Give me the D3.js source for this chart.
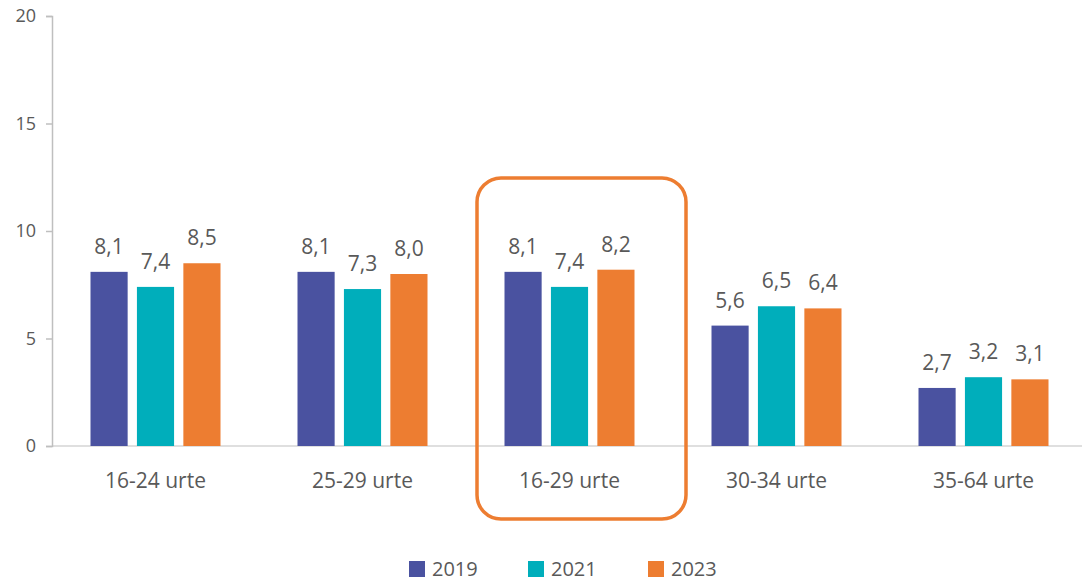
<!DOCTYPE html>
<html>
<head>
<meta charset="utf-8">
<script src="https://cdn.jsdelivr.net/npm/d3@7"></script>
<style>
  body { margin: 0; background: #fff; }
  svg { display: block; }
  text { font-family: "Open Sans", "Noto Sans", sans-serif; fill: #595959; }
</style>
</head>
<body>
<svg id="chart" width="1082" height="582"></svg>
<script>
// data
const categories = ["16-24 urte", "25-29 urte", "16-29 urte", "30-34 urte", "35-64 urte"];
const years = ["2019", "2021", "2023"];
const values2019 = [8.1, 8.1, 8.1, 5.6, 2.7];
const values2021 = [7.4, 7.3, 7.4, 6.5, 3.2];
const values2023 = [8.5, 8.0, 8.2, 6.4, 3.1];
const yTicks = [0, 5, 10, 15, 20];
const colors = ["#4a52a0", "#00aebb", "#ed7d31"];
const highlighted = "16-29 urte";

const seriesValues = [values2019, values2021, values2023];

const svg = d3.select("#chart");

// scales
const x0 = d3.scaleBand().domain(categories).range([52, 1087]);
const x1 = d3.scaleBand().domain(years).range([-65, 65]).paddingInner(0.2);
const y = d3.scaleLinear().domain([0, 20]).range([446, 16]);
const color = d3.scaleOrdinal().domain(years).range(colors);

// baseline
svg.append("line")
    .attr("x1", 52).attr("x2", 1082)
    .attr("y1", y(0)).attr("y2", y(0))
    .attr("stroke", "#d4d4d4").attr("stroke-width", 1.5);

// y axis
const yAxis = svg.append("g")
    .attr("transform", "translate(52,0)")
    .call(d3.axisLeft(y).tickValues(yTicks).tickSize(6).tickPadding(10));
yAxis.select(".domain").attr("stroke", "#bfbfbf").attr("stroke-width", 1.5);
yAxis.selectAll(".tick line").attr("stroke", "#bfbfbf").attr("stroke-width", 1.5);
yAxis.selectAll("text")
    .attr("fill", "#595959")
    .style("font-size", "18px")
    .style("font-family", "'Open Sans', sans-serif");

// bars
const groups = svg.append("g").selectAll("g")
    .data(categories)
    .join("g")
    .attr("transform", d => `translate(${x0(d) + x0.bandwidth() / 2},0)`);

const cells = (d, i) => years.map((yr, j) => ({ year: yr, value: seriesValues[j][i] }));

groups.selectAll("rect")
    .data(cells)
    .join("rect")
    .attr("x", d => x1(d.year))
    .attr("width", x1.bandwidth())
    .attr("y", d => y(d.value))
    .attr("height", d => y(0) - y(d.value))
    .attr("fill", d => color(d.year));

groups.selectAll("text.val")
    .data(cells)
    .join("text")
    .attr("class", "val")
    .attr("x", d => x1(d.year) + x1.bandwidth() / 2)
    .attr("y", d => y(d.value) - 18)
    .attr("text-anchor", "middle")
    .style("font-size", "21px")
    .text(d => d.value.toFixed(1).replace(".", ","));

// category labels
svg.append("g").selectAll("text")
    .data(categories)
    .join("text")
    .attr("x", d => x0(d) + x0.bandwidth() / 2)
    .attr("y", 488)
    .attr("text-anchor", "middle")
    .style("font-size", "21px")
    .text(d => d);

// highlight box round one category
const hx = x0(highlighted);
svg.append("rect")
    .attr("x", hx + 11)
    .attr("y", 178)
    .attr("width", x0.bandwidth() + 2)
    .attr("height", 341)
    .attr("rx", 24).attr("ry", 24)
    .attr("fill", "none")
    .attr("stroke", "#ed7d31")
    .attr("stroke-width", 3.5);

// legend
const legendX = [409, 528, 648];
const legend = svg.append("g").selectAll("g")
    .data(years)
    .join("g")
    .attr("transform", (d, i) => `translate(${legendX[i]},561)`);
legend.append("rect")
    .attr("width", 16).attr("height", 16)
    .attr("fill", d => color(d));
legend.append("text")
    .attr("x", 23).attr("y", 15)
    .style("font-size", "20px")
    .text(d => d);
</script>
</body>
</html>
